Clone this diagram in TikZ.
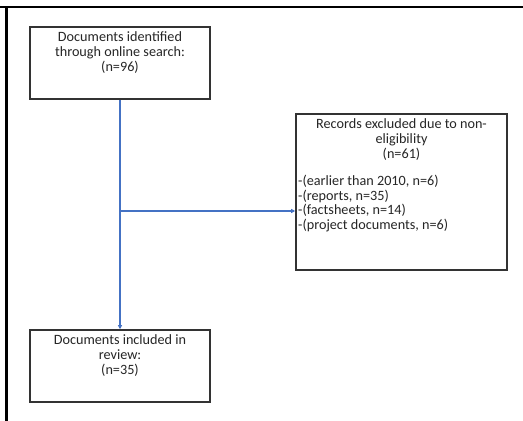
\documentclass[tikz,border=0pt]{standalone}
\usepackage{fontspec}
\setmainfont{Carlito}
\usetikzlibrary{arrows.meta}
\definecolor{arrowblue}{RGB}{68,114,196}
\begin{document}
\begin{tikzpicture}[x=1pt,y=-1pt,
  box/.style={draw=black!80, line width=1.6pt, fill=white, inner sep=0pt},
  txt/.style={font=\fontsize{14.2}{15}\selectfont, align=center, inner sep=0pt, text=black!85},
  lst/.style={font=\fontsize{14.2}{14.6}\selectfont, align=left, inner sep=0pt, text=black!85},
  arr/.style={draw=arrowblue, line width=1.1pt, -{Triangle[length=4pt,width=4pt]}}]
\useasboundingbox (0,0) rectangle (523,421);
\fill[white] (0,0) rectangle (523,421);
\coordinate (fl) at (0,7);
\coordinate (fr) at (523,7);
\coordinate (ft) at (6.5,6);
\coordinate (fb) at (6.5,421);
\draw[line width=2.6pt] (fl) -- (fr);
\draw[line width=2.6pt] (ft) -- (fb);
% boxes
\node[box, minimum width=180pt, minimum height=72pt] (b1) at (120,63) {};
\node[box, minimum width=211pt, minimum height=156pt] (b2) at (401.5,192) {};
\node[box, minimum width=180pt, minimum height=72pt] (b3) at (120,366) {};
% texts
\node[txt, anchor=north] (t1) at ([yshift=-5pt]b1.north) {Documents identified\\through online search:\\(n=96)};
\node[txt, anchor=north] (t2) at ([yshift=-5pt]b2.north) {Records excluded due to non-\\eligibility\\(n=61)};
\node[lst, anchor=north west] (t2b) at (298,175) {-(earlier than 2010, n=6)\\-(reports, n=35)\\-(factsheets, n=14)\\-(project documents, n=6)};
\node[txt, anchor=north] (t3) at ([yshift=-5pt]b3.north) {Documents included in\\review:\\(n=35)};
% connectors
\coordinate (j) at (120,211);
\draw[arr] (b1.south) -- (b3.north);
\draw[arr] (j) -- (j -| b2.west);
\end{tikzpicture}
\end{document}
